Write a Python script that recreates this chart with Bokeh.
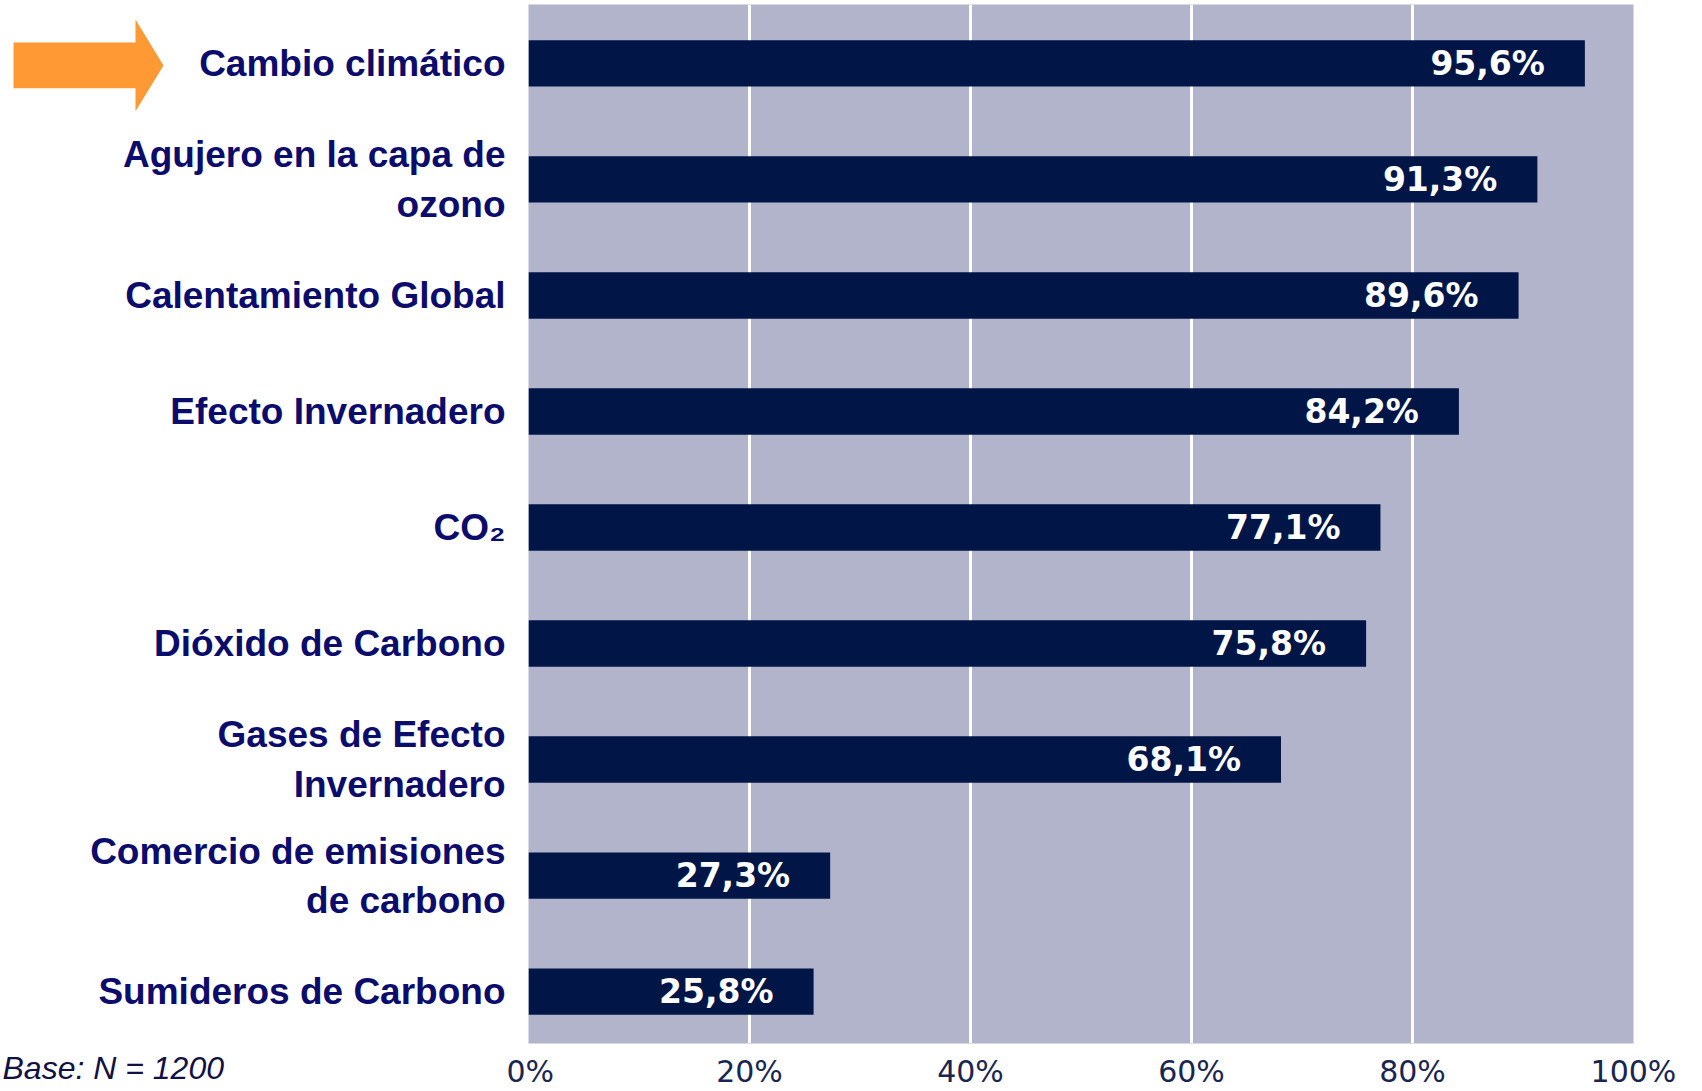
from bokeh.plotting import figure
from bokeh.layouts import row
from bokeh.models import Range1d, FixedTicker, ColumnDataSource, Title
from bokeh.embed import file_html
from bokeh.resources import INLINE
from bokeh.core.properties import value

# ---- data ----
categories = [
    "Cambio climático",
    "Agujero en la capa de\nozono",
    "Calentamiento Global",
    "Efecto Invernadero",
    "CO₂",
    "Dióxido de Carbono",
    "Gases de Efecto\nInvernadero",
    "Comercio de emisiones\nde carbono",
    "Sumideros de Carbono",
]
values = [95.6, 91.3, 89.6, 84.2, 77.1, 75.8, 68.1, 27.3, 25.8]
x_ticks = [0, 20, 40, 60, 80, 100]
x_tick_labels = ["0%", "20%", "40%", "60%", "80%", "100%"]
grid_ticks = [20, 40, 60, 80]
base_note = "Base: N = 1200"

n = len(categories)
pos = [n - 1 - i for i in range(n)]
labels = [f"{v:.1f}%".replace(".", ",") for v in values]

# ---- layout constants ----
W, H = 1702, 1091
LPW = 506                  # width of the label strip on the left
FRAME_LEFT = 528
BORDER_TOP, BORDER_BOTTOM, BORDER_RIGHT = 4, 46, 69
YLO, YHI = -0.447, n - 1 + 0.5075
ppu = (H - BORDER_TOP - BORDER_BOTTOM) / (YHI - YLO)

NAVY_TEXT = "#0C0C6C"
y_range = Range1d(YLO, YHI)

# ---- main chart ----
src = ColumnDataSource(dict(y=pos, v=values, lab=labels))
mp = figure(width=W - LPW, height=H, output_backend="svg", toolbar_location=None,
            x_range=Range1d(0, 100), y_range=y_range, y_axis_location=None,
            min_border_left=FRAME_LEFT - LPW, min_border_right=BORDER_RIGHT,
            min_border_top=BORDER_TOP, min_border_bottom=BORDER_BOTTOM)
mp.background_fill_color = "#B2B4CC"
mp.border_fill_color = "white"
mp.outline_line_color = None

mp.hbar(y="y", right="v", left=0, height=0.4, source=src,
        fill_color="#011547", line_color=None)
mp.text(x="v", y="y", text="lab", source=src, text_align="right", text_baseline="middle",
        x_offset=-40, text_color="white", text_font=value("DejaVu Sans"),
        text_font_style="bold", text_font_size="33px")

mp.xgrid.ticker = FixedTicker(ticks=grid_ticks)
mp.xgrid.grid_line_color = "white"
mp.xgrid.grid_line_width = 3
mp.ygrid.grid_line_color = None

mp.xaxis.ticker = FixedTicker(ticks=x_ticks)
mp.xaxis.major_label_overrides = {t: l for t, l in zip(x_ticks, x_tick_labels)}
mp.xaxis.major_tick_line_color = None
mp.xaxis.major_tick_out = 0
mp.xaxis.major_tick_in = 0
mp.xaxis.minor_tick_line_color = None
mp.xaxis.axis_line_color = "#D8D9E2"
mp.xaxis.major_label_standoff = 10
mp.xaxis.major_label_text_font = "DejaVu Sans"
mp.xaxis.major_label_text_font_size = "30px"
mp.xaxis.major_label_text_color = "#1A2552"

# ---- left strip: category names, arrow, base note (shared vertical scale) ----
lp = figure(width=LPW, height=H, output_backend="svg", toolbar_location=None,
            x_range=Range1d(0, LPW), y_range=y_range,
            x_axis_location=None, y_axis_location=None,
            min_border_left=0, min_border_right=0,
            min_border_top=BORDER_TOP, min_border_bottom=BORDER_BOTTOM)
lp.background_fill_color = "white"
lp.border_fill_color = "white"
lp.outline_line_color = None
lp.grid.visible = False

lsrc = ColumnDataSource(dict(y=pos, name=categories))
lp.text(x=LPW - 1, y="y", text="name", source=lsrc, text_align="right", text_baseline="middle",
        text_color=NAVY_TEXT, text_font=value("Liberation Sans"), text_font_style="bold",
        text_font_size="37px", text_line_height=1.2)

# orange arrow pointing at the first category
cy = pos[0] - 2 / ppu
sh, hh = 23 / ppu, 46 / ppu
lp.patch(x=[13, 135, 135, 163, 135, 135, 13],
         y=[cy + sh, cy + sh, cy + hh, cy, cy - hh, cy - sh, cy - sh],
         fill_color="#FF9933", line_color=None)

note = Title(text=base_note, align="left", offset=2, standoff=8, vertical_align="bottom",
             text_font="Liberation Sans", text_font_style="italic", text_font_size="32px",
             text_color="#111144")
lp.add_layout(note, "below")

layout = row(lp, mp)
open("out.html", "w").write(file_html(layout, INLINE))
